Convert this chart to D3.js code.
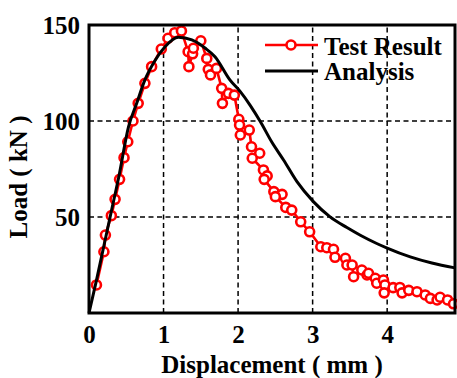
<!DOCTYPE html>
<html>
<head>
<meta charset="utf-8">
<script src="https://cdn.jsdelivr.net/npm/d3@7"></script>
<style>
  body { margin: 0; background: #fff; }
  text { font-family: "Liberation Serif", "Times New Roman", serif; font-weight: bold; }
</style>
</head>
<body>
<div id="LOAD_CHART"></div>
<script>
// measured test points (displacement mm, load kN)
const testDisp = [0.10, 0.20, 0.22, 0.30, 0.35, 0.41, 0.47, 0.52, 0.59, 0.66, 0.75, 0.84, 0.97, 1.06, 1.15, 1.24,
  1.33, 1.34, 1.39, 1.40, 1.50, 1.58, 1.60, 1.63, 1.71, 1.78, 1.79, 1.87, 1.95, 2.01, 2.02, 2.03, 2.15, 2.18,
  2.29, 2.19, 2.34, 2.39, 2.35, 2.48, 2.59, 2.50, 2.64, 2.72, 2.84, 2.96, 3.11, 3.19, 3.28, 3.30, 3.44, 3.46,
  3.53, 3.55, 3.66, 3.73, 3.75, 3.84, 3.86, 3.95, 3.97, 3.96, 4.08, 4.17, 4.20, 4.29, 4.40, 4.51, 4.58, 4.67,
  4.71, 4.81, 4.89];
const testLoad = [14.6, 31.9, 40.6, 50.7, 59.2, 69.6, 80.9, 89.2, 100.0, 109.2, 119.6, 128.3, 137.5, 143.1, 146.0, 146.9,
  136.1, 128.3, 135.0, 137.9, 141.8, 132.6, 126.9, 124.0, 127.4, 117.0, 109.2, 114.4, 113.5, 100.9, 97.9, 92.7, 95.3, 86.6,
  83.2, 80.6, 74.5, 71.4, 69.6, 63.2, 61.8, 60.6, 55.0, 53.6, 47.5, 42.3, 34.5, 34.0, 33.2, 29.0, 28.5, 25.0,
  25.0, 18.9, 22.4, 19.8, 20.7, 18.1, 15.5, 17.2, 14.6, 10.5, 13.2, 13.3, 10.5, 11.8, 11.1, 9.4, 7.6, 6.8,
  8.2, 6.8, 4.8];

// analysis curve
const anaDisp = [0, 0.1, 0.2, 0.3, 0.4, 0.53, 0.64, 0.75, 0.89, 1.02, 1.2, 1.38, 1.56, 1.69, 1.89, 2.03, 2.16, 2.3,
  2.45, 2.61, 2.79, 3.01, 3.23, 3.46, 3.64, 3.86, 4.0, 4.31, 4.6, 4.91];
const anaLoad = [0, 17, 35, 53, 71, 97, 109.2, 121.4, 131.8, 138.7, 143.6, 142.2, 137.9, 133.5, 121.4, 115.3, 108.3, 99.6,
  89.2, 79.7, 68.4, 58.0, 50.2, 44.5, 40.5, 36.2, 33.8, 29.2, 26.0, 23.5];

const xTicks = [0, 1, 2, 3, 4];
const yTicks = [50, 100, 150];
const xGrid = [1, 2, 3, 4];
const yGrid = [50, 100];
const seriesNames = ['Test Result', 'Analysis'];

const width = 457, height = 378;
const margin = {top: 25, right: 2, bottom: 65, left: 89};

const svg = d3.select('#LOAD_CHART')
  .append('svg')
  .attr('width', width)
  .attr('height', height);

const x = d3.scaleLinear()
  .domain([0, 4.91])
  .range([margin.left, width - margin.right]);

const y = d3.scaleLinear()
  .domain([0, 150])
  .range([height - margin.bottom, margin.top]);

// dashed grid
svg.append('g')
  .selectAll('line')
  .data(xGrid)
  .join('line')
  .attr('x1', d => x(d)).attr('x2', d => x(d))
  .attr('y1', y(0)).attr('y2', y(150))
  .attr('stroke', '#000')
  .attr('stroke-width', 1.5)
  .attr('stroke-dasharray', '5,3.5');

svg.append('g')
  .selectAll('line')
  .data(yGrid)
  .join('line')
  .attr('x1', x(0)).attr('x2', x(4.91))
  .attr('y1', d => y(d)).attr('y2', d => y(d))
  .attr('stroke', '#000')
  .attr('stroke-width', 1.5)
  .attr('stroke-dasharray', '5,3.5');

const testData = testDisp.map((d, i) => ({x: d, y: testLoad[i]}));
const anaData = anaDisp.map((d, i) => ({x: d, y: anaLoad[i]}));

const line = d3.line()
  .x(d => x(d.x))
  .y(d => y(d.y));

svg.append('path')
  .datum(testData)
  .attr('fill', 'none')
  .attr('stroke', '#ff0000')
  .attr('stroke-width', 2.6)
  .attr('stroke-linejoin', 'round')
  .attr('d', line);

svg.append('g')
  .selectAll('circle')
  .data(testData)
  .join('circle')
  .attr('cx', d => x(d.x))
  .attr('cy', d => y(d.y))
  .attr('r', 4.5)
  .attr('fill', '#fff')
  .attr('stroke', '#ff0000')
  .attr('stroke-width', 2.6);

svg.append('path')
  .datum(anaData)
  .attr('fill', 'none')
  .attr('stroke', '#000')
  .attr('stroke-width', 3)
  .attr('stroke-linejoin', 'round')
  .attr('d', line.curve(d3.curveMonotoneX));

// frame
svg.append('rect')
  .attr('x', x(0)).attr('y', y(150))
  .attr('width', x(4.91) - x(0))
  .attr('height', y(0) - y(150))
  .attr('fill', 'none')
  .attr('stroke', '#000')
  .attr('stroke-width', 3);

// axes (labels only)
const xAxis = svg.append('g')
  .attr('transform', `translate(0,${y(0)})`)
  .call(d3.axisBottom(x).tickValues(xTicks).tickSize(0).tickPadding(12).tickFormat(d3.format('d')));
xAxis.select('.domain').remove();
xAxis.selectAll('text')
  .attr('font-family', '"Liberation Serif", serif')
  .attr('font-weight', 'bold')
  .attr('font-size', 25)
  .attr('fill', '#000');

const yAxis = svg.append('g')
  .attr('transform', `translate(${x(0)},0)`)
  .call(d3.axisLeft(y).tickValues(yTicks).tickSize(0).tickPadding(9));
yAxis.select('.domain').remove();
yAxis.selectAll('text')
  .attr('font-family', '"Liberation Serif", serif')
  .attr('font-weight', 'bold')
  .attr('font-size', 25)
  .attr('fill', '#000');

// axis titles
svg.append('text')
  .attr('x', (x(0) + x(4.91)) / 2)
  .attr('y', 373)
  .attr('text-anchor', 'middle')
  .attr('font-size', 25)
  .text('Displacement ( mm )');

svg.append('text')
  .attr('transform', `translate(27,177) rotate(-90)`)
  .attr('text-anchor', 'middle')
  .attr('font-size', 25)
  .text('Load ( kN )');

// legend
const legend = svg.append('g');
legend.append('line')
  .attr('x1', 265).attr('x2', 318).attr('y1', 45).attr('y2', 45)
  .attr('stroke', '#ff0000').attr('stroke-width', 2.6);
legend.append('circle')
  .attr('cx', 291).attr('cy', 45).attr('r', 4.5)
  .attr('fill', '#fff').attr('stroke', '#ff0000').attr('stroke-width', 2.6);
legend.append('line')
  .attr('x1', 265).attr('x2', 318).attr('y1', 71).attr('y2', 71)
  .attr('stroke', '#000').attr('stroke-width', 3);
legend.selectAll('text')
  .data(seriesNames)
  .join('text')
  .attr('x', 324)
  .attr('y', (d, i) => 55 + i * 25)
  .attr('font-size', 25)
  .text(d => d);
</script>
</body>
</html>
